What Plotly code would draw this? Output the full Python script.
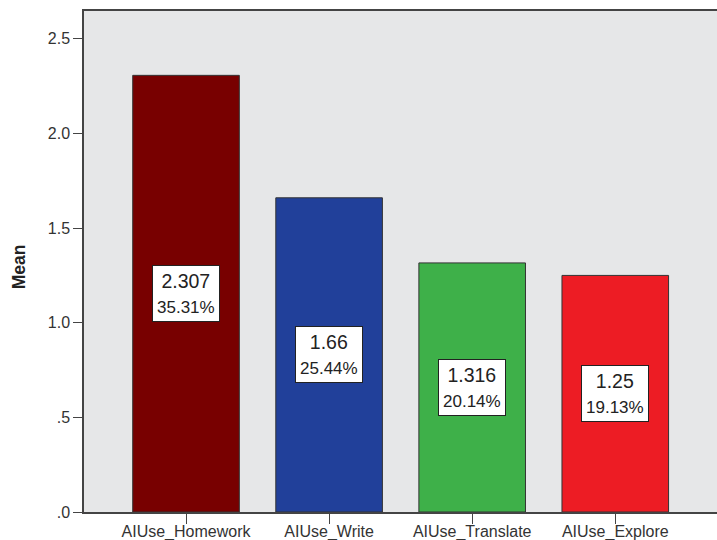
import plotly.graph_objects as go

# Mean AI-use scores by purpose
categories = ["AIUse_Homework", "AIUse_Write", "AIUse_Translate", "AIUse_Explore"]
means = [2.307, 1.66, 1.316, 1.25]
shares = ["35.31%", "25.44%", "20.14%", "19.13%"]
bar_colors = ["#780000", "#21409A", "#3EB049", "#ED1C24"]

y_tick_vals = [0, 0.5, 1.0, 1.5, 2.0, 2.5]
y_tick_text = [".0", ".5", "1.0", "1.5", "2.0", "2.5"]

font_family = "Liberation Sans, Arial, sans-serif"

fig = go.Figure(
    go.Bar(
        x=categories,
        y=means,
        marker=dict(color=bar_colors, line=dict(color="#333333", width=1)),
        width=0.745,
        hoverinfo="skip",
    )
)

# value / percentage boxes at mid-height of each bar
for cat, m, s in zip(categories, means, shares):
    fig.add_annotation(
        x=cat,
        y=m / 2,
        text=f"{m:g}<br><span style='font-size:17px'>{s}</span>",
        showarrow=False,
        font=dict(family=font_family, size=19.5, color="#222222"),
        bgcolor="white",
        bordercolor="#222222",
        borderwidth=1,
        borderpad=4,
        align="center",
    )

# y-axis title
fig.add_annotation(
    text="<b>Mean</b>",
    xref="paper",
    yref="paper",
    x=-0.103,
    y=0.5,
    xanchor="center",
    yanchor="middle",
    yshift=-5,
    textangle=-90,
    showarrow=False,
    font=dict(family=font_family, size=17.5, color="#222222"),
)

fig.update_layout(
    width=717,
    height=540,
    margin=dict(l=84, r=0, t=11, b=28),
    paper_bgcolor="white",
    plot_bgcolor="#E6E7E8",
    font=dict(family=font_family, size=16, color="#333333"),
    showlegend=False,
    xaxis=dict(
        range=[-0.713, 3.711],
        automargin=False,
        showline=True,
        linecolor="#444444",
        linewidth=1.5,
        mirror=True,
        ticks="outside",
        ticklen=10,
        tickcolor="#444444",
        tickwidth=1,
        ticklabelstandoff=-6,
        tickfont=dict(size=16, color="#333333"),
        showgrid=False,
        zeroline=False,
    ),
    yaxis=dict(
        range=[0, 2.647],
        automargin=False,
        tickvals=y_tick_vals,
        ticktext=y_tick_text,
        showline=True,
        linecolor="#444444",
        linewidth=1.5,
        ticks="outside",
        ticklen=9,
        tickcolor="#444444",
        tickwidth=1,
        tickfont=dict(size=16, color="#333333"),
        showgrid=False,
        zeroline=False,
    ),
)

fig.write_html("out.html")
